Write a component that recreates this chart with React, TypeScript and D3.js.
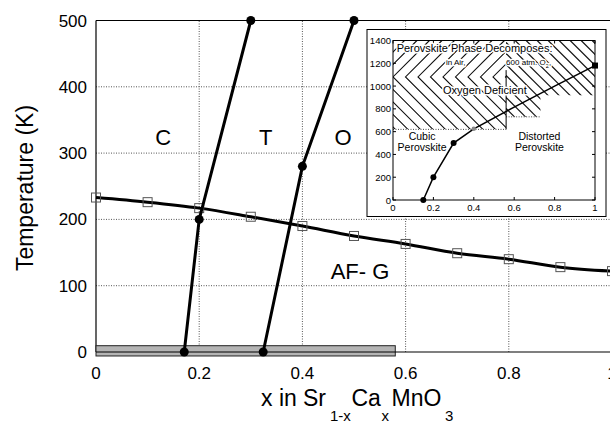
import React from "react";
import * as d3 from "d3";

// main panel: Neel temperature of the AF-G phase vs Ca content
const caContent = [0, 0.1, 0.2, 0.3, 0.4, 0.5, 0.6, 0.7, 0.8, 0.9, 1.0];
const neelTemp = [233, 226, 217, 204, 190, 175, 163, 149, 140, 128, 122];

// structural phase boundaries (C/T and T/O)
const ctBoundaryX = [0.171, 0.2, 0.3];
const ctBoundaryT = [0, 200, 500];
const toBoundaryX = [0.324, 0.4, 0.5];
const toBoundaryT = [0, 280, 500];

// grey bar along x axis (glassy region)
const barX = [0, 0.58];
const barT = [-6, 9.5];

const xTicks = [0, 0.2, 0.4, 0.6, 0.8, 1];
const yTicks = [0, 100, 200, 300, 400, 500];
const xTickLabels = ["0", "0.2", "0.4", "0.6", "0.8", "1"];

// phase labels
const phaseLabels = ["C", "T", "O"];
const phaseLabelX = [0.13, 0.329, 0.479];
const phaseLabelT = [312, 312, 312];

// inset: cubic -> distorted perovskite transition
const insetX = [0.15, 0.2, 0.3, 0.4, 0.6, 0.8, 1.0];
const insetT = [0, 200, 500, 625, 815, 1000, 1180];
const insetMarker = ["dot", "dot", "dot", "grey", "", "", "square"];
const insetXTicks = [0, 0.2, 0.4, 0.6, 0.8, 1];
const insetXTickLabels = ["0", "0.2", "0.4", "0.6", "0.8", "1"];
const insetYTicks = [0, 200, 400, 600, 800, 1000, 1200, 1400];

// decomposition regions in the inset
const airRegionX = [0, 0.56];
const airRegionT = [620, 1400];
const airChevronT = 1080;
const oxyRegionX = [0.56, 1, 1, 0.73, 0.73, 0.56];
const oxyRegionT = [1400, 1400, 920, 920, 730, 730];

const font = "'Liberation Sans', Arial, Helvetica, sans-serif";

export default function App() {
  const x = d3.scaleLinear().domain([0, 1]).range([96, 612]);
  const y = d3.scaleLinear().domain([0, 500]).range([352, 20.5]);

  const ix = d3.scaleLinear().domain([0, 1]).range([393, 595]);
  const iy = d3.scaleLinear().domain([0, 1400]).range([200, 40.5]);

  const neelLine = d3
    .line<number>()
    .x((_, i) => x(caContent[i]))
    .y((d) => y(d))
    .curve(d3.curveMonotoneX);

  const boundary = (xs: number[], ts: number[]) =>
    d3.line<number>().x((_, i) => x(xs[i])).y((d) => y(d))(ts) || "";

  const insetLine = d3
    .line<number>()
    .x((_, i) => ix(insetX[i]))
    .y((d) => iy(d));

  // chevron hatching for the "in air" region
  const ax0 = ix(airRegionX[0]);
  const ax1 = ix(airRegionX[1]);
  const ayTop = iy(airRegionT[1]);
  const ayBot = iy(airRegionT[0]);
  const ayMid = iy(airChevronT);
  const chevrons: string[] = [];
  for (let vx = ax0 - 150; vx < ax1 + 10; vx += 12.5) {
    chevrons.push(
      `M${vx + (ayMid - ayTop)},${ayTop}L${vx},${ayMid}L${vx + (ayBot - ayMid)},${ayBot}`
    );
  }

  // backslash hatching for the 600 atm region
  const oxyPoly = oxyRegionX.map((v, i) => [ix(v), iy(oxyRegionT[i])]);
  const oxyPath = "M" + oxyPoly.map((p) => p.join(",")).join("L") + "Z";
  const slashes: string[] = [];
  const ox0 = ix(0.56);
  for (let sx = ox0 - 200; sx < ix(1) + 10; sx += 11) {
    slashes.push(`M${sx},${ayTop}L${sx + 200},${ayTop + 200}`);
  }

  const halo = {
    paintOrder: "stroke",
    stroke: "#fff",
    strokeWidth: 3,
    strokeLinejoin: "round" as const,
  };

  return (
    <div style={{ position: "fixed", left: 0, top: 0 }}>
      <svg width={610} height={423} style={{ display: "block", background: "#fff" }} fontFamily={font}>
        <defs>
          <clipPath id="airClip">
            <rect x={ax0} y={ayTop} width={ax1 - ax0} height={ayBot - ayTop} />
          </clipPath>
          <clipPath id="oxyClip">
            <path d={oxyPath} />
          </clipPath>
        </defs>

        {/* grid */}
        {xTicks.slice(1).map((t) => (
          <line key={"gx" + t} x1={x(t)} x2={x(t)} y1={y(0)} y2={y(500)} stroke="#555" strokeWidth={1} strokeDasharray="1,1.5" />
        ))}
        {yTicks.slice(1, -1).map((t) => (
          <line key={"gy" + t} x1={x(0)} x2={x(1)} y1={y(t)} y2={y(t)} stroke="#555" strokeWidth={1} strokeDasharray="1,1.5" />
        ))}

        {/* frame */}
        <line x1={x(0)} x2={x(1)} y1={y(500)} y2={y(500)} stroke="#000" strokeWidth={1.2} />
        <line x1={x(0)} x2={x(0)} y1={y(0)} y2={y(500)} stroke="#000" strokeWidth={1.2} />

        {/* grey bar */}
        <rect
          x={x(barX[0])}
          y={y(barT[1])}
          width={x(barX[1]) - x(barX[0])}
          height={y(barT[0]) - y(barT[1])}
          fill="#b4b4b4"
          stroke="#222"
          strokeWidth={1}
        />
        <line x1={x(0)} x2={x(1)} y1={y(0)} y2={y(0)} stroke="#000" strokeWidth={1.2} />

        {/* axis tick labels */}
        {yTicks.map((t) => (
          <text key={"yl" + t} x={87} y={y(t) + 6} textAnchor="end" fontSize={17}>
            {t}
          </text>
        ))}
        {xTicks.map((t, i) => (
          <text key={"xl" + t} x={x(t)} y={379} textAnchor="middle" fontSize={17}>
            {xTickLabels[i]}
          </text>
        ))}

        {/* axis titles */}
        <text transform="translate(33,188) rotate(-90)" textAnchor="middle" fontSize={23}>
          Temperature (K)
        </text>
        <text fontSize={23}>
          <tspan x={261} y={406}>x in</tspan>
          <tspan x={303} y={406}>Sr</tspan>
          <tspan x={330} y={421} fontSize={15}>1-x</tspan>
          <tspan x={351.5} y={406}>Ca</tspan>
          <tspan x={381.5} y={421} fontSize={15}>x</tspan>
          <tspan x={391.5} y={406}>MnO</tspan>
          <tspan x={445} y={421} fontSize={15}>3</tspan>
        </text>

        {/* phase labels */}
        {phaseLabels.map((s, i) => (
          <text key={s} x={x(phaseLabelX[i])} y={y(phaseLabelT[i])} textAnchor="middle" fontSize={22}>
            {s}
          </text>
        ))}
        <text x={x(0.5116)} y={y(110)} textAnchor="middle" fontSize={22}>
          AF- G
        </text>

        {/* Neel line */}
        <path d={neelLine(neelTemp) || ""} fill="none" stroke="#000" strokeWidth={3} />
        {neelTemp.map((t, i) => (
          <rect
            key={"sq" + i}
            x={x(caContent[i]) - 4.5}
            y={y(t) - 4.5}
            width={9}
            height={9}
            fill="none"
            stroke="#555"
            strokeWidth={1}
          />
        ))}

        {/* structural boundaries */}
        {[
          [ctBoundaryX, ctBoundaryT],
          [toBoundaryX, toBoundaryT],
        ].map(([xs, ts], k) => (
          <g key={"b" + k}>
            <path d={boundary(xs, ts)} fill="none" stroke="#000" strokeWidth={3} />
            {ts.map((t, i) => (
              <circle key={i} cx={x(xs[i])} cy={y(t)} r={4.5} fill="#000" />
            ))}
          </g>
        ))}

        {/* inset */}
        <rect x={367} y={29.5} width={239} height={187} fill="#fff" stroke="#000" strokeWidth={1} />
        <g clipPath="url(#airClip)">
          {chevrons.map((d, i) => (
            <path key={"cv" + i} d={d} fill="none" stroke="#111" strokeWidth={1.1} />
          ))}
        </g>
        <g clipPath="url(#oxyClip)">
          {slashes.map((d, i) => (
            <path key={"sl" + i} d={d} fill="none" stroke="#111" strokeWidth={1.1} />
          ))}
        </g>
        <line x1={ax0} x2={ax1} y1={ayBot} y2={ayBot} stroke="#444" strokeDasharray="1,1.5" />
        <line x1={ix(0.56)} x2={ix(0.73)} y1={iy(730)} y2={iy(730)} stroke="#444" strokeDasharray="1,1.5" />
        <line x1={ix(0.56)} x2={ix(0.56)} y1={iy(1140)} y2={iy(620)} stroke="#000" strokeWidth={1} />

        <rect x={ix(0)} y={iy(1400)} width={ix(1) - ix(0)} height={iy(0) - iy(1400)} fill="none" stroke="#000" strokeWidth={1} />
        {insetXTicks.map((t, i) => (
          <g key={"ixt" + t}>
            <line x1={ix(t)} x2={ix(t)} y1={iy(0)} y2={iy(0) - 3} stroke="#000" />
            <line x1={ix(t)} x2={ix(t)} y1={iy(1400)} y2={iy(1400) + 3} stroke="#000" />
            <text x={ix(t)} y={iy(0) + 11} textAnchor="middle" fontSize={9.5}>
              {insetXTickLabels[i]}
            </text>
          </g>
        ))}
        {insetYTicks.map((t) => (
          <g key={"iyt" + t}>
            <line x1={ix(0)} x2={ix(0) + 3} y1={iy(t)} y2={iy(t)} stroke="#000" />
            <line x1={ix(1)} x2={ix(1) - 3} y1={iy(t)} y2={iy(t)} stroke="#000" />
            <text x={ix(0) - 2} y={iy(t) + 3.5} textAnchor="end" fontSize={9.5}>
              {t}
            </text>
          </g>
        ))}

        <path d={insetLine(insetT) || ""} fill="none" stroke="#000" strokeWidth={1.5} />
        {insetT.map((t, i) => {
          const m = insetMarker[i];
          if (m === "dot") return <circle key={"im" + i} cx={ix(insetX[i])} cy={iy(t)} r={3} fill="#000" />;
          if (m === "grey") return <circle key={"im" + i} cx={ix(insetX[i])} cy={iy(t)} r={2.2} fill="#888" />;
          if (m === "square")
            return <rect key={"im" + i} x={ix(insetX[i]) - 3} y={iy(t) - 3} width={6} height={6} fill="#000" />;
          return null;
        })}

        {/* inset annotations */}
        <text x={ix(0.018)} y={iy(1300)} fontSize={11} style={halo}>
          Perovskite Phase Decomposes:
        </text>
        <text x={ix(0.262)} y={iy(1185)} fontSize={8} fill="#000" style={halo}>
          in Air,
        </text>
        <text x={ix(0.56)} y={iy(1185)} fontSize={8} fill="#000" style={halo}>
          600 atm. O<tspan dy={3} fontSize={6}>2</tspan>
          <tspan dy={-3}>,</tspan>
        </text>
        <text x={ix(0.455)} y={iy(930)} textAnchor="middle" fontSize={11} style={halo}>
          Oxygen Deficient
        </text>
        <text x={ix(0.144)} y={iy(527)} textAnchor="middle" fontSize={10.5}>
          Cubic
        </text>
        <text x={ix(0.144)} y={iy(433)} textAnchor="middle" fontSize={10.5}>
          Perovskite
        </text>
        <text x={ix(0.725)} y={iy(527)} textAnchor="middle" fontSize={10.5}>
          Distorted
        </text>
        <text x={ix(0.725)} y={iy(433)} textAnchor="middle" fontSize={10.5}>
          Perovskite
        </text>
      </svg>
    </div>
  );
}
